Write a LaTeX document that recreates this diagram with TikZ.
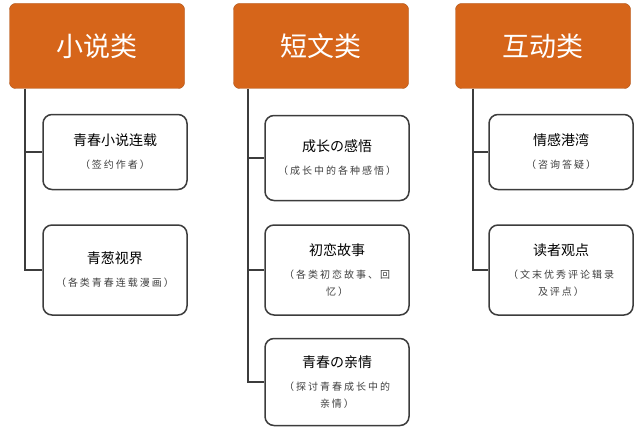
\documentclass[tikz,border=0pt]{standalone}
\usepackage{fontspec}
\newfontfamily\cjk{Noto Sans CJK SC}
\newfontfamily\cjksub[LetterSpace=20]{Noto Sans CJK SC}
\usetikzlibrary{positioning}
\definecolor{myorange}{RGB}{214, 101, 26}
\definecolor{lineGray}{RGB}{60, 60, 60}
\newcommand{\subline}[1]{{\cjksub\fontsize{10}{16}\selectfont\color{black!75}#1}}
\begin{document}
\begin{tikzpicture}[x=1pt, y=-1pt, >=stealth,
		headbox/.style={draw=myorange!80!black, rounded corners=6pt, fill=myorange, text=white, minimum width=175pt, minimum height=85pt, inner sep=0pt, font=\cjk\fontsize{27}{30}\selectfont},
		itembox/.style={draw=lineGray, line width=1.5pt, rounded corners=9pt, fill=white, minimum width=144pt, inner sep=0pt, align=center, font=\cjk\fontsize{14}{17}\selectfont},
		chainLine/.style={line width=1.5pt, color=lineGray}
		]
		\useasboundingbox (0,0) rectangle (640,428);
		% headers
		\node [headbox] (h1) at (97,46) {小说类};
		\node [headbox] (h2) at (321,46) {短文类};
		\node [headbox] (h3) at (543,46) {互动类};
		% column 1
		\node [itembox, minimum height=75pt] (a1) at (115,152) {青春小说连载\\[6pt]\subline{（签约作者）}};
		\node [itembox, minimum height=90pt] (a2) at (115,270) {青葱视界\\[6pt]\subline{（各类青春连载漫画）}};
		% column 2
		\node [itembox, minimum height=85pt] (b1) at (337,158) {成长の感悟\\[6pt]\subline{（成长中的各种感悟）}};
		\node [itembox, minimum height=90pt] (b2) at (337,270) {初恋故事\\[6pt]\subline{（各类初恋故事、回}\\\subline{忆）}};
		\node [itembox, minimum height=87pt] (b3) at (337,382) {青春の亲情\\[6pt]\subline{（探讨青春成长中的}\\\subline{亲情）}};
		% column 3
		\node [itembox, minimum height=75pt] (c1) at (561,152) {情感港湾\\[6pt]\subline{（咨询答疑）}};
		\node [itembox, minimum height=90pt] (c2) at (561,270) {读者观点\\[6pt]\subline{（文末优秀评论辑录}\\\subline{及评点）}};
		% connectors
		\coordinate (t1) at (25,0 |- h1.south);
		\coordinate (t2) at (248,0 |- h2.south);
		\coordinate (t3) at (473,0 |- h3.south);
		\draw [chainLine] (t1) |- (a2.west);
		\draw [chainLine] (t1 |- a1.west) -- (a1.west);
		\draw [chainLine] (t2) |- (b3.west);
		\draw [chainLine] (t2 |- b1.west) -- (b1.west);
		\draw [chainLine] (t2 |- b2.west) -- (b2.west);
		\draw [chainLine] (t3) |- (c2.west);
		\draw [chainLine] (t3 |- c1.west) -- (c1.west);
	\end{tikzpicture}
\end{document}
